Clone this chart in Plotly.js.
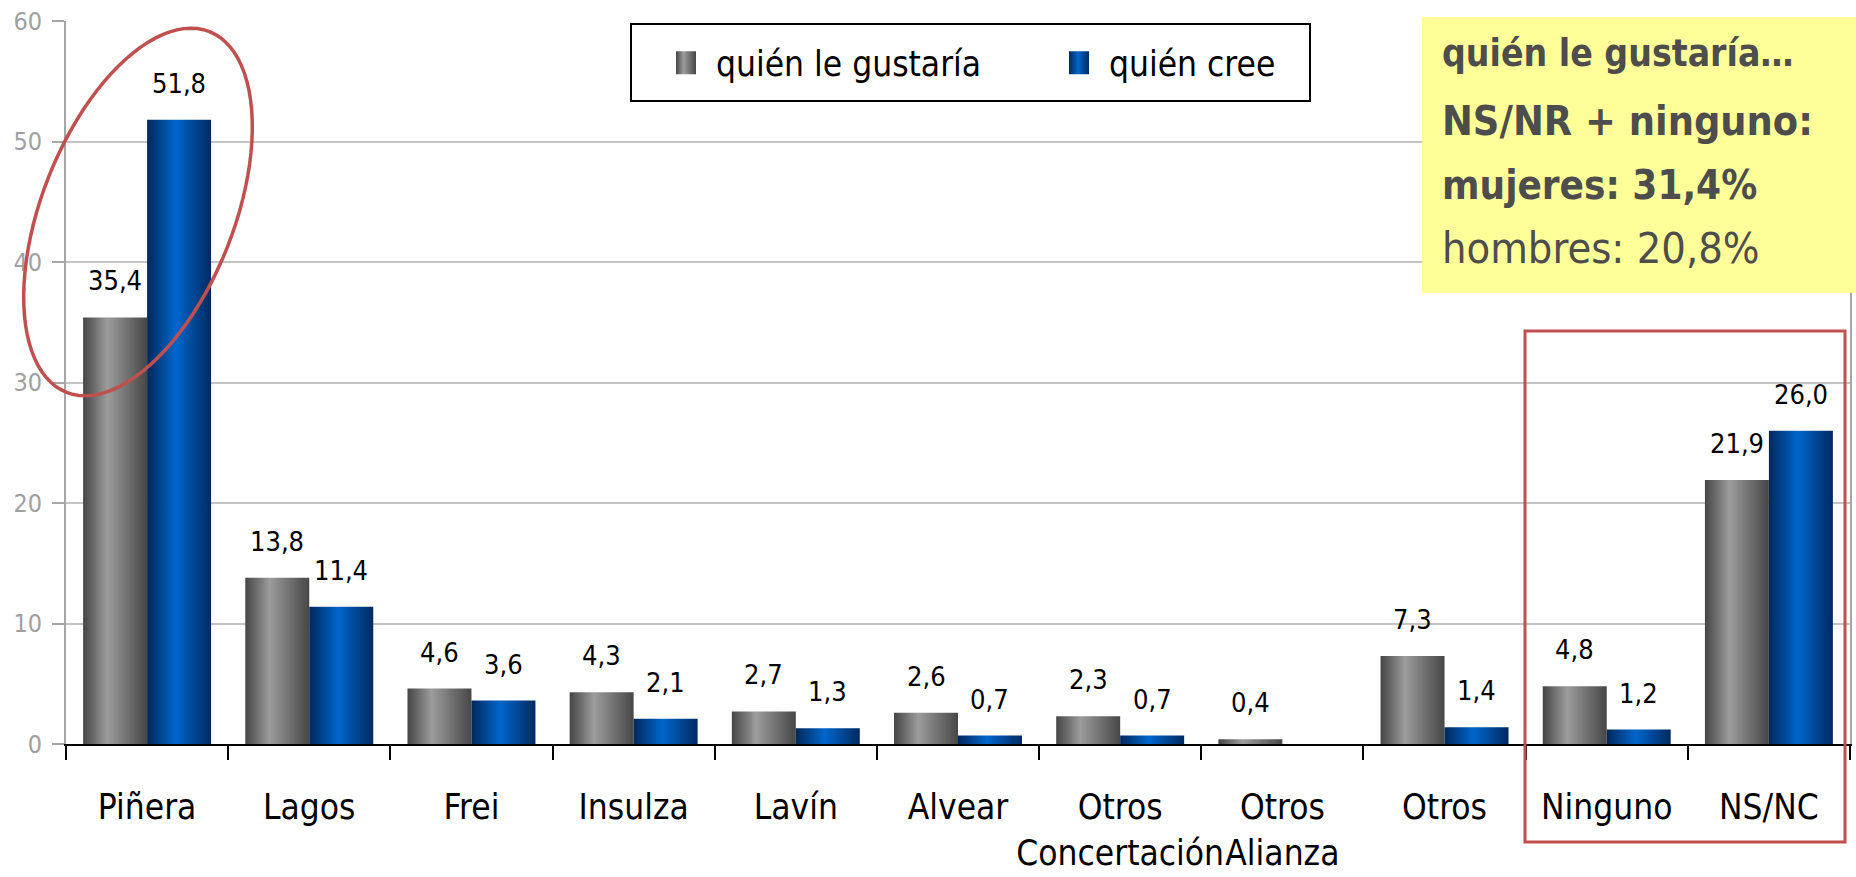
<!DOCTYPE html>
<html>
<head>
<meta charset="utf-8">
<script src="https://cdn.plot.ly/plotly-3.0.1.min.js"></script>
<style>
  html, body { margin: 0; padding: 0; background: #ffffff; }
  #chart { width: 1856px; height: 877px; }
</style>
</head>
<body>
<div id="chart"></div>
<script>
// ---------- data ----------
const categories = ["Piñera", "Lagos", "Frei", "Insulza", "Lavín", "Alvear",
  "Otros<br>Concertación", "Otros<br>Alianza", "Otros", "Ninguno", "NS/NC"];
const gustaria = [35.4, 13.8, 4.6, 4.3, 2.7, 2.6, 2.3, 0.4, 7.3, 4.8, 21.9];
const cree = [51.8, 11.4, 3.6, 2.1, 1.3, 0.7, 0.7, null, 1.4, 1.2, 26.0];
const seriesNames = ["quién le gustaría", "quién cree"];
const yTicks = [0, 10, 20, 30, 40, 50, 60];
const noteLines = ["<b>quién le gustaría…</b>", "<b>NS/NR + ninguno:</b>", "<b>mujeres: 31,4%</b>", "hombres: 20,8%"];

// ---------- layout geometry (pixels) ----------
const W = 1856, H = 877;
const M = { l: 66, r: 6, t: 21, b: 133 };
const PW = W - M.l - M.r, PH = H - M.t - M.b;
const px = x => (x - M.l) / PW;          // pixel -> paper x
const py = y => (H - M.b - y) / PH;      // pixel -> paper y

const FONT = "'DejaVu Sans Condensed', 'Liberation Sans Narrow', sans-serif";
const fmt = v => v.toFixed(1).replace('.', ',');

const traces = [
  { type: 'bar', name: seriesNames[0], x: categories, y: gustaria, legend: 'legend',
    marker: { color: '#7a7a7a' }, hoverinfo: 'skip' },
  { type: 'bar', name: seriesNames[1], x: categories, y: cree, legend: 'legend2',
    marker: { color: '#0058b8' }, hoverinfo: 'skip' }
];

// value labels
const BARW = PW / categories.length * 0.789 / 2;
const annotations = [];
[gustaria, cree].forEach((arr, s) => {
  arr.forEach((v, i) => {
    if (v === null) return;
    annotations.push({
      x: categories[i], y: v, xref: 'x', yref: 'y',
      text: fmt(v), showarrow: false,
      xanchor: 'center', yanchor: 'bottom',
      xshift: (s === 0 ? -1 : 1) * BARW / 2, yshift: 19,
      font: { family: FONT, size: 27, color: '#000000' }
    });
  });
});
// note box text
const noteY = [54, 121, 185, 248];
const noteSize = [37, 41, 40, 43];
noteLines.forEach((t, k) => {
  annotations.push({
    x: px(1440), y: py(noteY[k]), xref: 'paper', yref: 'paper',
    text: t, showarrow: false, xanchor: 'left', yanchor: 'middle',
    font: { family: FONT, size: noteSize[k], color: '#4d4d4d' }
  });
});

// ellipse around Piñera
const ell = (() => {
  const cx = 138, cy = 212, a = 194, b = 96, phi = 68.4 * Math.PI / 180;
  const ux = Math.cos(phi), uy = -Math.sin(phi);
  const vx = Math.sin(phi), vy = Math.cos(phi);
  let d = '';
  for (let k = 0; k <= 96; k++) {
    const t = 2 * Math.PI * k / 96;
    const X = cx + a * Math.cos(t) * ux + b * Math.sin(t) * vx;
    const Y = cy + a * Math.cos(t) * uy + b * Math.sin(t) * vy;
    d += (k === 0 ? 'M' : 'L') + px(X).toFixed(5) + ',' + py(Y).toFixed(5);
  }
  return d + 'Z';
})();

const shapes = [
  // legend frame
  { type: 'rect', xref: 'paper', yref: 'paper', layer: 'above',
    x0: px(631), x1: px(1310), y0: py(101), y1: py(24),
    fillcolor: '#ffffff', line: { color: '#000000', width: 2 } },
  // note box
  { type: 'rect', xref: 'paper', yref: 'paper', layer: 'above',
    x0: px(1422), x1: px(1860), y0: py(293), y1: py(17),
    fillcolor: '#ffff99', line: { width: 0 } },
  { type: 'rect', xref: 'paper', yref: 'paper', layer: 'above',
    x0: px(1525), x1: px(1845), y0: py(842), y1: py(331),
    fillcolor: 'rgba(0,0,0,0)', line: { color: '#c0504d', width: 3 } },
  { type: 'path', xref: 'paper', yref: 'paper', layer: 'above', path: ell,
    fillcolor: 'rgba(0,0,0,0)', line: { color: '#c0504d', width: 3.5 } }
];

const legendCommon = {
  orientation: 'h', xanchor: 'left', yanchor: 'middle', y: py(63),
  bgcolor: 'rgba(0,0,0,0)', borderwidth: 0,
  font: { family: FONT, size: 35, color: '#000000' },
  itemwidth: 50
};

const layout = {
  width: W, height: H,
  margin: M,
  paper_bgcolor: '#ffffff', plot_bgcolor: '#ffffff',
  font: { family: FONT, color: '#000000' },
  barmode: 'group', bargap: 0.211, bargroupgap: 0,
  showlegend: true,
  legend: Object.assign({}, legendCommon, { x: px(656) }),
  legend2: Object.assign({}, legendCommon, { x: px(1049) }),
  xaxis: {
    type: 'category', tickson: 'boundaries', tickangle: 0,
    ticks: 'outside', ticklen: 14, tickwidth: 2, tickcolor: '#000000',
    showline: true, linecolor: '#000000', linewidth: 2,
    showgrid: false, zeroline: false,
    tickfont: { family: FONT, size: 35, color: '#000000' },
    ticklabelstandoff: 31,
    automargin: false
  },
  yaxis: {
    range: [0, 60], tickvals: yTicks, ticktext: yTicks.map(String),
    ticks: 'outside', ticklen: 12, tickwidth: 2, tickcolor: '#a6a6a6',
    showline: true, linecolor: '#a6a6a6', linewidth: 2, mirror: true,
    showgrid: true, gridcolor: '#c4c4c4', gridwidth: 2,
    zeroline: false,
    tickfont: { family: FONT, size: 25, color: '#a0a0a0' },
    ticklabelstandoff: 5,
    automargin: false
  },
  annotations: annotations,
  shapes: shapes
};

Plotly.newPlot('chart', traces, layout, { staticPlot: true, displayModeBar: false }).then(gd => {
  // cylinder-like gradients on bars and legend swatches
  const svg = gd.querySelector('.main-svg');
  const NS = 'http://www.w3.org/2000/svg';
  let defs = svg.querySelector('defs');
  if (!defs) { defs = document.createElementNS(NS, 'defs'); svg.insertBefore(defs, svg.firstChild); }
  const grads = {
    gGray: [['0%', '#454545'], ['38%', '#9c9c9c'], ['100%', '#474747']],
    gBlue: [['0%', '#00285c'], ['45%', '#0066cc'], ['100%', '#002a60']]
  };
  Object.keys(grads).forEach(id => {
    const g = document.createElementNS(NS, 'linearGradient');
    g.setAttribute('id', id);
    g.setAttribute('x1', '0'); g.setAttribute('x2', '1');
    g.setAttribute('y1', '0'); g.setAttribute('y2', '0');
    grads[id].forEach(([o, c]) => {
      const st = document.createElementNS(NS, 'stop');
      st.setAttribute('offset', o); st.setAttribute('stop-color', c);
      g.appendChild(st);
    });
    defs.appendChild(g);
  });
  const ids = ['gGray', 'gBlue'];
  gd.querySelectorAll('.barlayer .trace').forEach((tr, i) => {
    tr.querySelectorAll('path').forEach(p => { p.style.fill = 'url(#' + ids[i] + ')'; });
  });
  ['.legend', '.legend2'].forEach((sel, i) => {
    gd.querySelectorAll(sel + ' .legendpoints path').forEach(p => {
      p.setAttribute('d', 'M10,11.5H-10V-11.5H10Z');
      p.style.fill = 'url(#' + ids[i] + ')';
      p.style.strokeWidth = '0';
    });
  });
});
</script>
</body>
</html>
